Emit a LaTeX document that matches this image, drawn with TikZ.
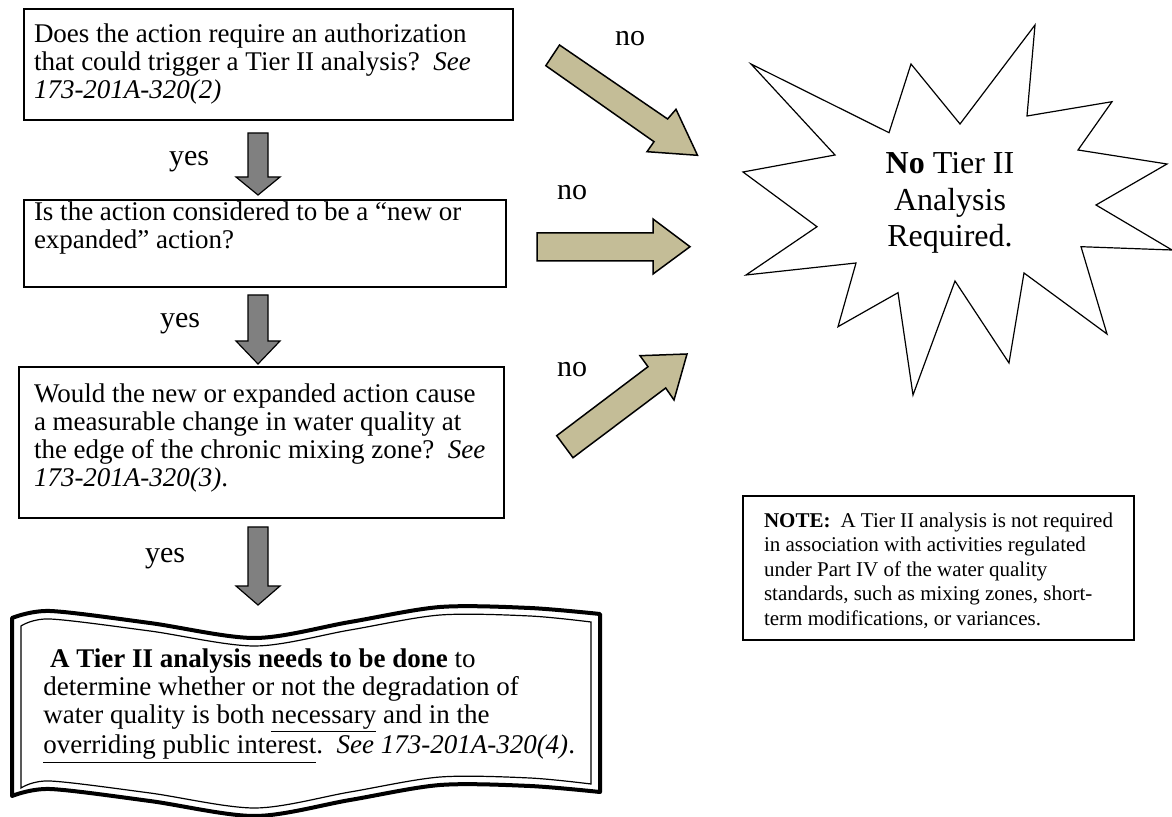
\documentclass[tikz,border=0pt]{standalone}
\usepackage{fontspec}
\setmainfont{Liberation Serif}
\definecolor{yesgray}{RGB}{128,128,128}
\definecolor{notan}{RGB}{196,189,151}
\newcommand{\boxtext}[4]{\parbox[c][#1][t]{#2}{\vspace*{#3}\raggedright\strut #4}}

\begin{document}
\begin{tikzpicture}[x=0.5pt, y=-0.5pt,
    every node/.style={font=\fontsize{13.5}{14}\selectfont},
    qbox/.style={draw, line width=1pt, inner ysep=0pt, inner xsep=5pt, anchor=north west},
    yesarrow/.style={draw, fill=yesgray, line width=0.6pt, line join=miter},
    noarrow/.style={draw, fill=notan, line width=0.75pt, line join=miter},
    lbl/.style={inner sep=0pt, font=\fontsize{15}{17}\selectfont},
    burst/.style={draw, line width=0.6pt, line join=miter},
    wave/.style={line width=2pt, line join=round}]

    \useasboundingbox (0,0) rectangle (1172,817);

    % Questions
    \node[qbox] (ask) at (23,8) {\boxtext{55.5pt}{234.5pt}{7pt}{Does the action require an authorization\\
        that could trigger a Tier II analysis?\ \ \emph{See}\\ \emph{173-201A-320(2)}}};
    \node[qbox] (novel) at (23,199) {\boxtext{43.5pt}{231pt}{0.6pt}{Is the action considered to be a ``new or\\
        expanded'' action?}};
    \node[qbox, inner xsep=7.5pt] (change) at (18,366) {\boxtext{75.5pt}{227.5pt}{8pt}{Would the new or expanded action cause\\
        a measurable change in water quality at\\ the edge of the chronic mixing zone?\ \ \emph{See}\\ \emph{173-201A-320(3)}.}};

    % Yes arrows
    \foreach \top/\neck/\tip in {133/177/195, 295/341/364, 527/586/605}
        \filldraw[yesarrow] (248,\top) -- (268,\top) -- (268,\neck) -- (280,\neck)
            -- (258,\tip) -- (236,\neck) -- (248,\neck) -- cycle;
    \node[lbl] (yes1) at (189,162) {yes};
    \node[lbl] (yes2) at (180,324) {yes};
    \node[lbl] (yes3) at (165,559) {yes};

    % No arrows
    \filldraw[noarrow] (559.5,45) -- (667.6,119) -- (676,109.3) -- (697.5,155.3)
        -- (647,151.7) -- (654,141.7) -- (545.8,65.7) -- cycle;
    \filldraw[noarrow] (537,233) -- (653,233) -- (653,219) -- (690,246.7)
        -- (653,274) -- (653,261) -- (537,261) -- cycle;
    \filldraw[noarrow] (556.7,435.7) -- (648,366.7) -- (640,355.7) -- (687,354)
        -- (674,400) -- (665.7,388) -- (573,457.7) -- cycle;
    \node[lbl] (no1) at (630,39) {no};
    \node[lbl] (no2) at (572,193) {no};
    \node[lbl] (no3) at (572,370) {no};

    % Burst
    \draw[burst] (1035,25) -- (1027,116) -- (1112,101.7) -- (1078,150) -- (1167,164) -- (1096,205)
        -- (1172,250) -- (1081,246.7) -- (1107,334) -- (1024,273) -- (1009,363) -- (955,281)
        -- (913,395) -- (898,292.7) -- (838,326.7) -- (856,263) -- (746,275) -- (817,226.7)
        -- (743,172) -- (835,155) -- (751,64) -- (889,132.7) -- (911,64) -- (960,124) -- cycle;
    \node[inner sep=0pt, font=\fontsize{16}{18.4}\selectfont, align=center] (none) at (950,203)
        {\textbf{No} Tier II\\ Analysis\\ Required.};

    % Outcome
    \draw[wave] plot[smooth] coordinates {(12,618) (50,611) (150,623) (255,638) (350,622) (440,607) (530,608) (600,614)}
        -- plot[smooth] coordinates {(600,792) (530,786) (440,785) (350,800) (255,816) (150,801) (50,789) (12,796)} -- cycle;
    \draw[line width=0.6pt] plot[smooth] coordinates {(21,626) (50,619) (150,631) (255,646) (350,630) (440,615) (530,616) (591,622)}
        -- plot[smooth] coordinates {(591,784) (530,778) (440,777) (350,792) (255,808) (150,793) (50,781) (21,788)} -- cycle;
    \node[inner sep=0pt, anchor=north west, align=left] (done) at (43,647)
        {\strut\hspace*{0.25em}\textbf{A Tier II analysis needs to be done} to\\
        determine whether or not the degradation of\\
        water quality is both \underline{necessary} and in the\\
        \underline{overriding public interest}.\ \ \emph{See 173-201A-320(4)}.};

    % Note
    \node[qbox, inner xsep=10.5pt, font=\fontsize{10.5}{12.3}\selectfont] (note) at (742,495)
        {\boxtext{72pt}{174.5pt}{6.9pt}{\textbf{NOTE:}\ \ A Tier II analysis is not required\\
        in association with activities regulated\\ under Part IV of the water quality\\
        standards, such as mixing zones, short-\\ term modifications, or variances.}};
\end{tikzpicture}
\end{document}
